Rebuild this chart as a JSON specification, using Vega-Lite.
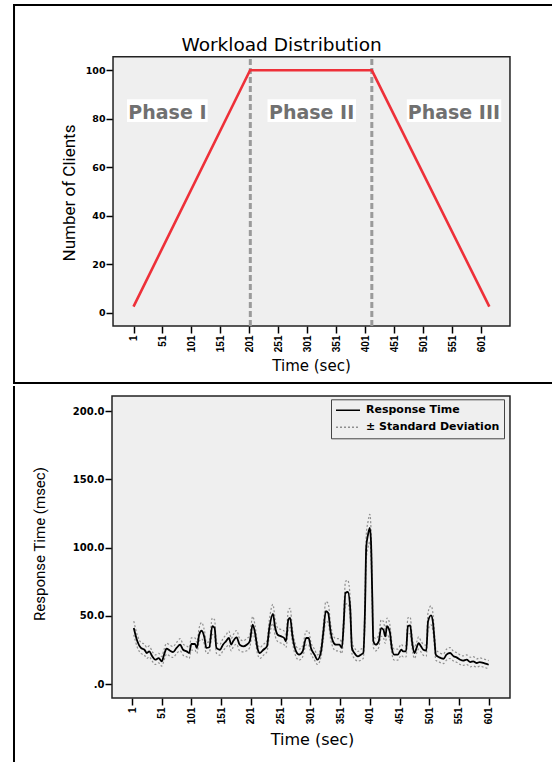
{
  "$schema": "https://vega.github.io/schema/vega-lite/v6.json",
  "padding": {"left": 12, "top": 3, "right": 0, "bottom": 0},
  "background": "white",
  "spacing": 0,
  "config": {
    "view": {"stroke": null},
    "axis": {"domain": false, "grid": false, "tickColor": "#000", "tickWidth": 1.5, "tickSize": 7, "labelColor": "#000", "titleColor": "#000", "labelFontWeight": "bold", "titleFontWeight": "normal", "labelOverlap": false, "labelFlush": false, "labelBound": false, "titleAlign": "center"},
    "axisX": {"labelAngle": 270, "labelFont": "Liberation Sans", "labelFontSize": 10, "labelPadding": 2, "titleFont": "DejaVu Sans", "titleBaseline": "alphabetic"},
    "axisY": {"labelFont": "DejaVu Sans", "labelFontSize": 9.5, "labelPadding": 1, "titleFont": "Roboto", "titleAngle": 270, "titleBaseline": "middle"}
  },
  "datasets": {
    "topBg": [{"x": -34.3, "x2": 650.1, "y": -5.5, "y2": 105.6}],
    "topDash": [{"x": 202.4, "y": -5.5, "y2": 105.6}, {"x": 411.9, "y": -5.5, "y2": 105.6}],
    "topFrameV": [{"x": -205.0, "y": -29.41, "y2": 127.35}],
    "topFrameH": [{"x": -206.76, "x2": 724.28, "y": 126.94}, {"x": -206.76, "x2": 724.28, "y": -29.0}],
    "workload": [{"x": 1, "y": 2.5}, {"x": 202, "y": 100}, {"x": 412, "y": 100}, {"x": 614.5, "y": 2.5}],
    "phaseBox": [{"x": -10.2, "x2": 128.9, "y": 78.7, "y2": 88.1}, {"x": 232.0, "x2": 384.6, "y": 78.7, "y2": 88.1}, {"x": 472.2, "x2": 635.1, "y": 78.7, "y2": 88.1}],
    "phaseLabel": [{"x": 59.4, "y": 80, "label": "Phase I"}, {"x": 308.1, "y": 80, "label": "Phase II"}, {"x": 553.4, "y": 80, "label": "Phase III"}],
    "topTitle": [{"x": 256.3, "y": 108, "label": "Workload Distribution"}],
    "botBg": [{"x": -32.64, "x2": 636.8, "y": -10.26, "y2": 210.99}],
    "botFrameV": [{"x": -197.49, "y": -59.34, "y2": 218.32}],
    "resp": [
      {"x": 4, "y": 41, "lo": 36, "hi": 46},
      {"x": 10, "y": 31.3, "lo": 26.8, "hi": 35.8},
      {"x": 16, "y": 26.4, "lo": 22.4, "hi": 30.4},
      {"x": 22, "y": 25.1, "lo": 21.1, "hi": 29.1},
      {"x": 26, "y": 22.7, "lo": 18.7, "hi": 26.7},
      {"x": 30, "y": 23.9, "lo": 19.9, "hi": 27.9},
      {"x": 35, "y": 20.3, "lo": 16.8, "hi": 23.8},
      {"x": 40, "y": 17.8, "lo": 14.3, "hi": 21.3},
      {"x": 46, "y": 19, "lo": 15.5, "hi": 22.5},
      {"x": 51, "y": 16.6, "lo": 13.1, "hi": 20.1},
      {"x": 55, "y": 21.5, "lo": 17.5, "hi": 25.5},
      {"x": 59, "y": 25.9, "lo": 21.9, "hi": 29.9},
      {"x": 65, "y": 24.4, "lo": 20.4, "hi": 28.4},
      {"x": 70, "y": 23.4, "lo": 19.4, "hi": 27.4},
      {"x": 76, "y": 26.4, "lo": 22.4, "hi": 30.4},
      {"x": 82, "y": 28.8, "lo": 24.3, "hi": 33.3},
      {"x": 87, "y": 25.1, "lo": 21.1, "hi": 29.1},
      {"x": 93, "y": 23.9, "lo": 19.9, "hi": 27.9},
      {"x": 97, "y": 22.7, "lo": 18.7, "hi": 26.7},
      {"x": 101, "y": 29.3, "lo": 24.8, "hi": 33.8},
      {"x": 107, "y": 29.3, "lo": 24.8, "hi": 33.8},
      {"x": 110, "y": 26.4, "lo": 22.4, "hi": 30.4},
      {"x": 114, "y": 36.1, "lo": 31.1, "hi": 41.1},
      {"x": 118, "y": 39, "lo": 33, "hi": 45},
      {"x": 123, "y": 33.7, "lo": 28.7, "hi": 38.7},
      {"x": 126, "y": 26.4, "lo": 22.4, "hi": 30.4},
      {"x": 131, "y": 26.9, "lo": 22.9, "hi": 30.9},
      {"x": 136, "y": 42.3, "lo": 36.3, "hi": 48.3},
      {"x": 140, "y": 41, "lo": 35, "hi": 47},
      {"x": 143, "y": 26.4, "lo": 22.4, "hi": 30.4},
      {"x": 149, "y": 25.1, "lo": 21.1, "hi": 29.1},
      {"x": 154, "y": 28.8, "lo": 24.3, "hi": 33.3},
      {"x": 159, "y": 31.3, "lo": 26.8, "hi": 35.8},
      {"x": 164, "y": 33.7, "lo": 28.7, "hi": 38.7},
      {"x": 168, "y": 28.8, "lo": 24.3, "hi": 33.3},
      {"x": 171, "y": 31.3, "lo": 26.8, "hi": 35.8},
      {"x": 177, "y": 34.2, "lo": 29.2, "hi": 39.2},
      {"x": 182, "y": 28.8, "lo": 24.3, "hi": 33.3},
      {"x": 188, "y": 27.6, "lo": 23.6, "hi": 31.6},
      {"x": 194, "y": 28.8, "lo": 24.3, "hi": 33.3},
      {"x": 199, "y": 31.3, "lo": 26.8, "hi": 35.8},
      {"x": 204, "y": 43.5, "lo": 37.5, "hi": 49.5},
      {"x": 208, "y": 37.4, "lo": 31.9, "hi": 42.9},
      {"x": 212, "y": 26.4, "lo": 22.4, "hi": 30.4},
      {"x": 216, "y": 22.7, "lo": 18.7, "hi": 26.7},
      {"x": 222, "y": 25.1, "lo": 21.1, "hi": 29.1},
      {"x": 228, "y": 27.6, "lo": 23.6, "hi": 31.6},
      {"x": 232, "y": 41, "lo": 35, "hi": 47},
      {"x": 238, "y": 51.3, "lo": 44.3, "hi": 58.3},
      {"x": 242, "y": 41, "lo": 35, "hi": 47},
      {"x": 246, "y": 36.1, "lo": 31.1, "hi": 41.1},
      {"x": 252, "y": 34.9, "lo": 29.9, "hi": 39.9},
      {"x": 257, "y": 33.7, "lo": 28.7, "hi": 38.7},
      {"x": 260, "y": 31.3, "lo": 26.8, "hi": 35.8},
      {"x": 264, "y": 47.1, "lo": 40.1, "hi": 54.1},
      {"x": 267, "y": 48.4, "lo": 41.4, "hi": 55.4},
      {"x": 271, "y": 34.9, "lo": 29.9, "hi": 39.9},
      {"x": 277, "y": 23.9, "lo": 19.9, "hi": 27.9},
      {"x": 282, "y": 21.5, "lo": 17.5, "hi": 25.5},
      {"x": 288, "y": 23.9, "lo": 19.9, "hi": 27.9},
      {"x": 294, "y": 33.7, "lo": 28.7, "hi": 38.7},
      {"x": 298, "y": 33.7, "lo": 28.7, "hi": 38.7},
      {"x": 302, "y": 26.4, "lo": 22.4, "hi": 30.4},
      {"x": 308, "y": 21.5, "lo": 17.5, "hi": 25.5},
      {"x": 313, "y": 17.8, "lo": 14.3, "hi": 21.3},
      {"x": 319, "y": 23.9, "lo": 19.9, "hi": 27.9},
      {"x": 323, "y": 38.6, "lo": 33.1, "hi": 44.1},
      {"x": 327, "y": 53.3, "lo": 46.3, "hi": 60.3},
      {"x": 331, "y": 52, "lo": 45, "hi": 59},
      {"x": 335, "y": 38.6, "lo": 33.1, "hi": 44.1},
      {"x": 339, "y": 31.3, "lo": 26.8, "hi": 35.8},
      {"x": 344, "y": 28.8, "lo": 24.3, "hi": 33.3},
      {"x": 350, "y": 28.8, "lo": 24.3, "hi": 33.3},
      {"x": 354, "y": 26.4, "lo": 22.4, "hi": 30.4},
      {"x": 357, "y": 43.5, "lo": 37.5, "hi": 49.5},
      {"x": 360, "y": 66.7, "lo": 58.2, "hi": 75.2},
      {"x": 364, "y": 67.4, "lo": 58.9, "hi": 75.9},
      {"x": 368, "y": 55.7, "lo": 48.2, "hi": 63.2},
      {"x": 371, "y": 26.4, "lo": 22.4, "hi": 30.4},
      {"x": 375, "y": 22.7, "lo": 18.7, "hi": 26.7},
      {"x": 381, "y": 20.3, "lo": 16.8, "hi": 23.8},
      {"x": 386, "y": 21.5, "lo": 17.5, "hi": 25.5},
      {"x": 390, "y": 22.7, "lo": 18.7, "hi": 26.7},
      {"x": 393, "y": 55.7, "lo": 48.7, "hi": 62.7},
      {"x": 395, "y": 100, "lo": 91, "hi": 109},
      {"x": 398, "y": 109.4, "lo": 99.9, "hi": 118.9},
      {"x": 401, "y": 114.3, "lo": 104.3, "hi": 124.3},
      {"x": 403, "y": 104.5, "lo": 95, "hi": 114},
      {"x": 405, "y": 67.9, "lo": 59.9, "hi": 75.9},
      {"x": 407, "y": 31.3, "lo": 26.8, "hi": 35.8},
      {"x": 411, "y": 28.8, "lo": 24.3, "hi": 33.3},
      {"x": 416, "y": 31.3, "lo": 26.8, "hi": 35.8},
      {"x": 420, "y": 41, "lo": 35, "hi": 47},
      {"x": 424, "y": 39.8, "lo": 33.8, "hi": 45.8},
      {"x": 427, "y": 34.9, "lo": 29.9, "hi": 39.9},
      {"x": 430, "y": 42.3, "lo": 36.3, "hi": 48.3},
      {"x": 433, "y": 40.5, "lo": 34.5, "hi": 46.5},
      {"x": 435, "y": 37.4, "lo": 31.9, "hi": 42.9},
      {"x": 438, "y": 26.4, "lo": 22.4, "hi": 30.4},
      {"x": 442, "y": 21.5, "lo": 17.5, "hi": 25.5},
      {"x": 448, "y": 21.5, "lo": 17.5, "hi": 25.5},
      {"x": 454, "y": 25.1, "lo": 21.1, "hi": 29.1},
      {"x": 457, "y": 23.9, "lo": 19.9, "hi": 27.9},
      {"x": 462, "y": 23.9, "lo": 19.9, "hi": 27.9},
      {"x": 465, "y": 42.3, "lo": 36.3, "hi": 48.3},
      {"x": 469, "y": 43, "lo": 37, "hi": 49},
      {"x": 472, "y": 31.3, "lo": 26.8, "hi": 35.8},
      {"x": 476, "y": 22.7, "lo": 18.7, "hi": 26.7},
      {"x": 480, "y": 26.9, "lo": 22.9, "hi": 30.9},
      {"x": 483, "y": 30, "lo": 25.5, "hi": 34.5},
      {"x": 487, "y": 27.6, "lo": 23.6, "hi": 31.6},
      {"x": 491, "y": 25.1, "lo": 21.1, "hi": 29.1},
      {"x": 496, "y": 24.4, "lo": 20.4, "hi": 28.4},
      {"x": 499, "y": 45.9, "lo": 39.4, "hi": 52.4},
      {"x": 504, "y": 50.3, "lo": 43.3, "hi": 57.3},
      {"x": 507, "y": 45.9, "lo": 39.4, "hi": 52.4},
      {"x": 510, "y": 31.3, "lo": 26.8, "hi": 35.8},
      {"x": 512, "y": 21.5, "lo": 17.5, "hi": 25.5},
      {"x": 518, "y": 19.5, "lo": 16, "hi": 23},
      {"x": 525, "y": 18.5, "lo": 15, "hi": 22},
      {"x": 530, "y": 21.5, "lo": 17.5, "hi": 25.5},
      {"x": 536, "y": 22.7, "lo": 18.7, "hi": 26.7},
      {"x": 542, "y": 20.3, "lo": 16.8, "hi": 23.8},
      {"x": 547, "y": 19.5, "lo": 16, "hi": 23},
      {"x": 553, "y": 17.8, "lo": 14.3, "hi": 21.3},
      {"x": 558, "y": 17.1, "lo": 13.6, "hi": 20.6},
      {"x": 564, "y": 17.8, "lo": 14.3, "hi": 21.3},
      {"x": 570, "y": 16.1, "lo": 12.6, "hi": 19.6},
      {"x": 575, "y": 16.6, "lo": 13.1, "hi": 20.1},
      {"x": 581, "y": 15.4, "lo": 12.4, "hi": 18.4},
      {"x": 586, "y": 16.1, "lo": 13.1, "hi": 19.1},
      {"x": 592, "y": 15.4, "lo": 12.4, "hi": 18.4},
      {"x": 597, "y": 14.7, "lo": 11.7, "hi": 17.7},
      {"x": 601, "y": 14.1, "lo": 11.1, "hi": 17.1}
    ]
  },
  "vconcat": [
    {
      "width": 540,
      "height": 380,
      "encoding": {
        "x": {"field": "x", "type": "quantitative",
          "scale": {"domain": [-206.76, 724.28], "nice": false, "zero": false},
          "axis": {"title": "Time (sec)", "values": [1, 51, 101, 151, 201, 251, 301, 351, 401, 451, 501, 551, 601], "offset": -58, "titleFontSize": 15, "titleX": 298, "titleY": 44}},
        "y": {"field": "y", "type": "quantitative",
          "scale": {"domain": [-29.41, 127.35], "nice": false, "zero": false},
          "axis": {"title": "Number of Clients", "values": [0, 20, 40, 60, 80, 100], "offset": -100, "titleFontSize": 17, "titleX": -44, "titleY": 188.5}}
      },
      "layer": [
        {"data": {"name": "topBg"}, "mark": {"type": "rect", "fill": "#efefef", "stroke": "#222", "strokeWidth": 1.5},
          "encoding": {"x2": {"field": "x2"}, "y2": {"field": "y2"}}},
        {"data": {"name": "topDash"}, "mark": {"type": "rule", "color": "#9a9a9a", "strokeWidth": 3, "strokeDash": [6, 3]},
          "encoding": {"y2": {"field": "y2"}}},
        {"data": {"name": "workload"}, "mark": {"type": "line", "color": "#ee3039", "strokeWidth": 2.6}},
        {"data": {"name": "phaseBox"}, "mark": {"type": "rect", "fill": "#ffffff"},
          "encoding": {"x2": {"field": "x2"}, "y2": {"field": "y2"}}},
        {"data": {"name": "phaseLabel"}, "mark": {"type": "text", "font": "DejaVu Sans", "fontWeight": "bold", "fontSize": 19, "color": "#707070", "align": "center", "baseline": "alphabetic"},
          "encoding": {"text": {"field": "label"}}},
        {"data": {"name": "topTitle"}, "mark": {"type": "text", "font": "DejaVu Sans", "fontSize": 18.5, "color": "#000", "align": "center", "baseline": "alphabetic"},
          "encoding": {"text": {"field": "label"}}},
        {"data": {"name": "topFrameV"}, "mark": {"type": "rule", "color": "#000", "strokeWidth": 2},
          "encoding": {"y2": {"field": "y2"}}},
        {"data": {"name": "topFrameH"}, "mark": {"type": "rule", "color": "#000", "strokeWidth": 2},
          "encoding": {"x2": {"field": "x2"}}}
      ]
    },
    {
      "width": 540,
      "height": 379,
      "encoding": {
        "x": {"field": "x", "type": "quantitative",
          "scale": {"domain": [-199.17, 709.16], "nice": false, "zero": false},
          "axis": {"title": "Time (sec)", "values": [1, 51, 101, 151, 201, 251, 301, 351, 401, 451, 501, 551, 601], "offset": -67, "titleFontSize": 16, "titleX": 299, "titleY": 46.7}},
        "y": {"field": "y", "type": "quantitative",
          "scale": {"domain": [-59.34, 218.32], "nice": false, "zero": false},
          "axis": {"title": "Response Time (msec)", "values": [0, 50, 100, 150, 200], "labelExpr": "datum.value == 0 ? '.0' : format(datum.value, '.1f')", "offset": -99, "labelFontSize": 10, "titleFontSize": 15, "titleX": -72.7, "titleY": 157.5}}
      },
      "layer": [
        {"data": {"name": "botBg"}, "mark": {"type": "rect", "fill": "#efefef", "stroke": "#222", "strokeWidth": 1.5},
          "encoding": {"x2": {"field": "x2"}, "y2": {"field": "y2"}}},
        {"data": {"name": "resp"}, "mark": {"type": "line", "strokeWidth": 1.2, "strokeDash": [2, 2], "interpolate": "monotone"},
          "encoding": {
            "y": {"field": "lo", "type": "quantitative", "scale": {"domain": [-59.34, 218.32], "nice": false, "zero": false},
              "axis": {"title": "Response Time (msec)", "values": [0, 50, 100, 150, 200], "labelExpr": "datum.value == 0 ? '.0' : format(datum.value, '.1f')", "offset": -99, "labelFontSize": 10, "titleFontSize": 15, "titleX": -72.7, "titleY": 157.5}},
            "color": {"datum": "± Standard Deviation"}}},
        {"data": {"name": "resp"}, "mark": {"type": "line", "strokeWidth": 1.2, "strokeDash": [2, 2], "interpolate": "monotone"},
          "encoding": {
            "y": {"field": "hi", "type": "quantitative", "scale": {"domain": [-59.34, 218.32], "nice": false, "zero": false},
              "axis": {"title": "Response Time (msec)", "values": [0, 50, 100, 150, 200], "labelExpr": "datum.value == 0 ? '.0' : format(datum.value, '.1f')", "offset": -99, "labelFontSize": 10, "titleFontSize": 15, "titleX": -72.7, "titleY": 157.5}},
            "color": {"datum": "± Standard Deviation"}}},
        {"data": {"name": "resp"}, "mark": {"type": "line", "strokeWidth": 1.8, "interpolate": "monotone"},
          "encoding": {
            "color": {"datum": "Response Time",
              "scale": {"domain": ["Response Time", "± Standard Deviation"], "range": ["#000000", "#8f8f8f"]},
              "legend": {"orient": "none", "legendX": 318, "legendY": 395.3, "title": null, "symbolType": "stroke", "symbolSize": 576, "symbolStrokeWidth": 1.5, "clipHeight": 14, "labelFont": "DejaVu Sans", "labelFontWeight": "bold", "labelFontSize": 11, "labelColor": "#000", "labelOffset": 5, "padding": 4, "rowPadding": 3, "strokeColor": "#444", "fillColor": "#efefef",
                "encode": {"symbols": {"update": {"strokeDash": {"signal": "datum.value === '± Standard Deviation' ? [2, 2] : [1, 0]"}}}}}}}},
        {"data": {"name": "botFrameV"}, "mark": {"type": "rule", "color": "#000", "strokeWidth": 2},
          "encoding": {"y2": {"field": "y2"}}}
      ]
    }
  ]
}
